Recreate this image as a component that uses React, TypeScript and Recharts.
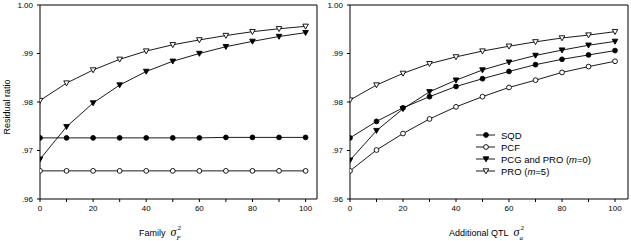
import React from "react";
import { LineChart, Line, XAxis, YAxis, ReferenceLine } from "recharts";

// ---------------------------------------------------------------------------
// Data
// ---------------------------------------------------------------------------

const variances = [0, 10, 20, 30, 40, 50, 60, 70, 80, 90, 100];

// Left panel: family variance
const sqdFamily = [0.9726, 0.9726, 0.9726, 0.9726, 0.9726, 0.9726, 0.9726, 0.9727, 0.9727, 0.9727, 0.9727];
const pcfFamily = [0.9658, 0.9658, 0.9658, 0.9658, 0.9658, 0.9658, 0.9658, 0.9658, 0.9658, 0.9658, 0.9658];
const pcgFamily = [0.9682, 0.9749, 0.9798, 0.9835, 0.9863, 0.9884, 0.99, 0.9914, 0.9925, 0.9935, 0.9943];
const proFamily = [0.9803, 0.9839, 0.9866, 0.9888, 0.9905, 0.9918, 0.9928, 0.9937, 0.9945, 0.9951, 0.9956];

// Right panel: additional QTL variance
const sqdQtl = [0.9726, 0.976, 0.9788, 0.9811, 0.9832, 0.9848, 0.9863, 0.9877, 0.9888, 0.9897, 0.9906];
const pcfQtl = [0.9658, 0.9701, 0.9735, 0.9765, 0.979, 0.9811, 0.983, 0.9845, 0.9861, 0.9873, 0.9884];
const pcgQtl = [0.968, 0.9741, 0.9786, 0.9821, 0.9845, 0.9866, 0.9882, 0.9896, 0.9907, 0.9917, 0.9925];
const proQtl = [0.9804, 0.9835, 0.9859, 0.9879, 0.9893, 0.9905, 0.9915, 0.9924, 0.9932, 0.9938, 0.9945];

const yTicks = [0.96, 0.97, 0.98, 0.99, 1.0];
const xTicks = [0, 10, 20, 30, 40, 50, 60, 70, 80, 90, 100];
const xLabelTicks = [0, 20, 40, 60, 80, 100];

type MarkerKind = "dot" | "circle" | "tri" | "openTri";

const seriesKeys = ["sqd", "pcf", "pcg", "pro"];
const seriesMarkers: MarkerKind[] = ["dot", "circle", "tri", "openTri"];

const FONT = "'Liberation Sans', Arial, sans-serif";
const SERIF = "'Liberation Serif', 'Times New Roman', serif";

function buildRows(series: number[][]) {
  return variances.map((v, i) => {
    const row: Record<string, number> = { v };
    seriesKeys.forEach((k, s) => {
      row[k] = series[s][i];
    });
    return row;
  });
}

const familyRows = buildRows([sqdFamily, pcfFamily, pcgFamily, proFamily]);
const qtlRows = buildRows([sqdQtl, pcfQtl, pcgQtl, proQtl]);

// ---------------------------------------------------------------------------
// Markers
// ---------------------------------------------------------------------------

function Marker({ cx, cy, kind }: { cx: number; cy: number; kind: MarkerKind }) {
  if (kind === "dot" || kind === "circle") {
    return (
      <circle
        cx={cx}
        cy={cy}
        r={2.4}
        fill={kind === "dot" ? "#000" : "#fff"}
        stroke="#000"
        strokeWidth={0.9}
      />
    );
  }
  const pts = `${cx - 2.8},${cy - 2.2} ${cx + 2.8},${cy - 2.2} ${cx},${cy + 2.8}`;
  return (
    <polygon
      points={pts}
      fill={kind === "tri" ? "#000" : "#fff"}
      stroke="#000"
      strokeWidth={0.9}
    />
  );
}

// ---------------------------------------------------------------------------
// Axis titles
// ---------------------------------------------------------------------------

function XTitle({ viewBox, text, sub }: any) {
  const x0 = viewBox.x + 99;
  const base = viewBox.y + 37;
  return (
    <text x={x0} y={base} fontFamily={FONT} fontSize={9} fill="#000">
      <tspan>{text}</tspan>
      <tspan dx={5} fontFamily={SERIF} fontStyle="italic" fontSize={12}>
        σ
      </tspan>
      <tspan dx={1} dy={-6} fontFamily={SERIF} fontSize={7}>
        2
      </tspan>
      <tspan dx={-4.5} dy={9.5} fontFamily={SERIF} fontStyle="italic" fontSize={7}>
        {sub}
      </tspan>
    </text>
  );
}

function YTitle() {
  return (
    <text
      x={7}
      y={107}
      transform="rotate(-90 7 107)"
      textAnchor="middle"
      dominantBaseline="central"
      fontFamily={FONT}
      fontSize={9}
      fill="#000"
    >
      Residual ratio
    </text>
  );
}

// ---------------------------------------------------------------------------
// Panel
// ---------------------------------------------------------------------------

function Panel({
  rows,
  width,
  xMax,
  title,
  sub,
  showYTitle,
}: {
  rows: Record<string, number>[];
  width: number;
  xMax: number;
  title: string;
  sub: string;
  showYTitle: boolean;
}) {
  return (
    <LineChart
      width={width}
      height={241}
      data={rows}
      margin={{ top: 5, right: 3, left: 0, bottom: 0 }}
    >
      <XAxis
        dataKey="v"
        type="number"
        domain={[0, xMax]}
        ticks={xTicks}
        allowDataOverflow
        height={42}
        stroke="#000"
        tickSize={3}
        tickMargin={3}
        tick={{ fill: "#000", fontSize: 8, fontFamily: FONT }}
        tickFormatter={(v: number) => (xLabelTicks.includes(v) ? String(v) : "")}
        label={{ content: (p: any) => <XTitle {...p} text={title} sub={sub} /> }}
      />
      <YAxis
        type="number"
        domain={[0.96, 1.0]}
        ticks={yTicks}
        allowDataOverflow
        width={40}
        stroke="#000"
        tickSize={3}
        tickMargin={4}
        tick={{ fill: "#000", fontSize: 8, fontFamily: FONT }}
        tickFormatter={(v: number) => (v >= 1 ? "1.00" : "." + (v * 100).toFixed(0))}
        label={showYTitle ? { content: () => <YTitle /> } : undefined}
      />
      <ReferenceLine y={1.0} stroke="#000" strokeWidth={1} />
      <ReferenceLine x={xMax} stroke="#000" strokeWidth={1} />
      {seriesKeys.map((k, s) => (
        <Line
          key={k}
          dataKey={k}
          stroke="#000"
          strokeWidth={0.9}
          isAnimationActive={false}
          dot={(p: any) => (
            <Marker key={`${k}-${p.index}`} cx={p.cx} cy={p.cy} kind={seriesMarkers[s]} />
          )}
          activeDot={false}
        />
      ))}
    </LineChart>
  );
}

// ---------------------------------------------------------------------------
// Legend
// ---------------------------------------------------------------------------

const legendLabels: React.ReactNode[] = [
  "SQD",
  "PCF",
  <>
    PCG and PRO (<i>m</i>=0)
  </>,
  <>
    PRO (<i>m</i>=5)
  </>,
];

function LegendBox() {
  return (
    <div style={{ position: "absolute", left: 475, top: 129, fontFamily: FONT, fontSize: 9.5 }}>
      {legendLabels.map((label, i) => (
        <div key={i} style={{ display: "flex", alignItems: "center", height: 12 }}>
          <svg width={26} height={12}>
            <line x1={1} y1={6} x2={20} y2={6} stroke="#000" strokeWidth={0.9} />
            <Marker cx={11} cy={6} kind={seriesMarkers[i]} />
          </svg>
          <span>{label}</span>
        </div>
      ))}
    </div>
  );
}

export default function App() {
  return (
    <div
      style={{
        position: "absolute",
        left: 0,
        top: 0,
        width: 631,
        height: 241,
        background: "#fff",
        overflow: "hidden",
      }}
    >
      <div style={{ position: "absolute", left: 0, top: 0 }}>
        <Panel rows={familyRows} width={320} xMax={104.3} title="Family" sub="F" showYTitle />
      </div>
      <div style={{ position: "absolute", left: 310, top: 0 }}>
        <Panel rows={qtlRows} width={321} xMax={104.9} title="Additional QTL" sub="a" showYTitle={false} />
      </div>
      <LegendBox />
    </div>
  );
}
